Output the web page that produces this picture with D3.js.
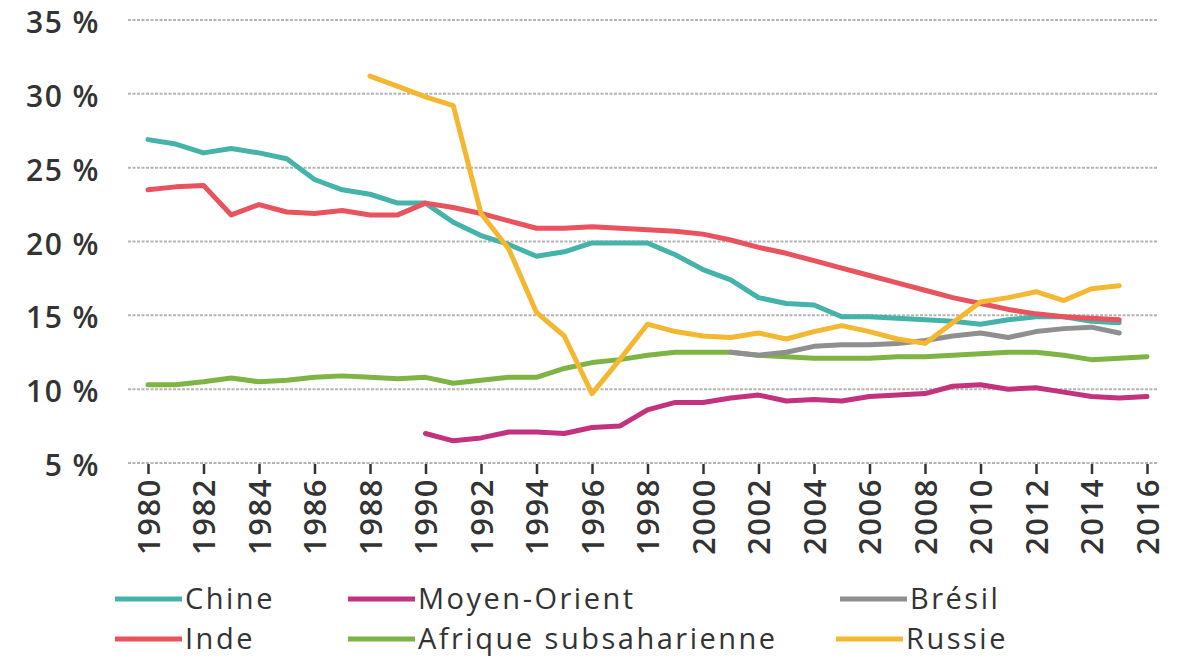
<!DOCTYPE html>
<html>
<head>
<meta charset="utf-8">
<script src="https://cdn.jsdelivr.net/npm/d3@7"></script>
<style>
  html, body { margin: 0; padding: 0; background: #fff; }
  svg { display: block; }
  text { font-family: "Open Sans", "Noto Sans", sans-serif; fill: #333; }
</style>
</head>
<body>
<svg id="chart" width="1191" height="660"></svg>
<script>
const years = d3.range(1980, 2017);
const yTicks = [5, 10, 15, 20, 25, 30, 35];
const xTicks = d3.range(1980, 2017, 2);

const chineYears = d3.range(1980, 2016);
const chine = [26.9, 26.6, 26.0, 26.3, 26.0, 25.6, 24.2, 23.5, 23.2, 22.6, 22.6, 21.3, 20.4, 19.8, 19.0, 19.3, 19.9, 19.9, 19.9, 19.1, 18.1, 17.4, 16.2, 15.8, 15.7, 14.9, 14.9, 14.8, 14.7, 14.6, 14.4, 14.7, 14.9, 14.9, 14.6, 14.5];

const indeYears = d3.range(1980, 2016);
const inde = [23.5, 23.7, 23.8, 21.8, 22.5, 22.0, 21.9, 22.1, 21.8, 21.8, 22.6, 22.3, 21.9, 21.4, 20.9, 20.9, 21.0, 20.9, 20.8, 20.7, 20.5, 20.1, 19.6, 19.2, 18.7, 18.2, 17.7, 17.2, 16.7, 16.2, 15.8, 15.4, 15.1, 14.9, 14.8, 14.7];

const russieYears = d3.range(1988, 2016);
const russie = [31.2, 30.5, 29.8, 29.2, 21.9, 19.5, 15.2, 13.6, 9.7, 12.0, 14.4, 13.9, 13.6, 13.5, 13.8, 13.4, 13.9, 14.3, 13.9, 13.4, 13.1, 14.5, 15.9, 16.2, 16.6, 16.0, 16.8, 17.0];

const moyenOrientYears = d3.range(1990, 2017);
const moyenOrient = [7.0, 6.5, 6.7, 7.1, 7.1, 7.0, 7.4, 7.5, 8.6, 9.1, 9.1, 9.4, 9.6, 9.2, 9.3, 9.2, 9.5, 9.6, 9.7, 10.2, 10.3, 10.0, 10.1, 9.8, 9.5, 9.4, 9.5];

const afriqueYears = d3.range(1980, 2017);
const afrique = [10.3, 10.3, 10.5, 10.75, 10.5, 10.6, 10.8, 10.9, 10.8, 10.7, 10.8, 10.4, 10.6, 10.8, 10.8, 11.4, 11.8, 12.0, 12.3, 12.5, 12.5, 12.5, 12.3, 12.2, 12.1, 12.1, 12.1, 12.2, 12.2, 12.3, 12.4, 12.5, 12.5, 12.3, 12.0, 12.1, 12.2];

const bresilYears = d3.range(2001, 2016);
const bresil = [12.5, 12.3, 12.5, 12.9, 13.0, 13.0, 13.1, 13.3, 13.6, 13.8, 13.5, 13.9, 14.1, 14.2, 13.8];

const seriesNames = ["Chine", "Inde", "Moyen-Orient", "Afrique subsaharienne", "Brésil", "Russie"];
const seriesColors = ["#45b3aa", "#e8535e", "#c2327f", "#7db443", "#8f8f8f", "#f4b731"];

const series = [
  { name: "Chine", years: chineYears, values: chine, color: seriesColors[0] },
  { name: "Inde", years: indeYears, values: inde, color: seriesColors[1] },
  { name: "Moyen-Orient", years: moyenOrientYears, values: moyenOrient, color: seriesColors[2] },
  { name: "Afrique subsaharienne", years: afriqueYears, values: afrique, color: seriesColors[3] },
  { name: "Brésil", years: bresilYears, values: bresil, color: seriesColors[4] },
  { name: "Russie", years: russieYears, values: russie, color: seriesColors[5] }
];

const svg = d3.select("#chart");
const x = d3.scaleLinear().domain([1980, 2016]).range([148, 1147]);
const y = d3.scaleLinear().domain([5, 35]).range([463, 20]);

// Gridlines (dotted)
svg.append("g").selectAll("line").data(yTicks).join("line")
  .attr("x1", 128).attr("x2", 1158)
  .attr("y1", d => y(d)).attr("y2", d => y(d))
  .attr("stroke", "#b4b4b4").attr("stroke-width", 2)
  .attr("stroke-dasharray", "3,1.5");

// Y axis labels
const yAxis = d3.axisLeft(y).tickValues(yTicks).tickSize(0).tickPadding(0)
  .tickFormat(d => d + " %");
const gy = svg.append("g").attr("transform", "translate(100,0)").call(yAxis);
gy.select(".domain").remove();
gy.selectAll("text").attr("font-size", 30).attr("font-weight", 600)
  .attr("fill", "#333").attr("font-family", "'Open Sans', sans-serif")
  .attr("letter-spacing", 1.5)
  .attr("dy", "0.42em");

// X axis
const xAxis = d3.axisBottom(x).tickValues(xTicks).tickSize(10).tickFormat(d3.format("d"));
const gx = svg.append("g").attr("transform", `translate(0,${y(5) + 1})`).call(xAxis);
gx.select(".domain").remove();
gx.selectAll(".tick line").attr("stroke", "#333").attr("stroke-width", 2.5);
gx.selectAll("text")
  .attr("font-size", 31).attr("font-weight", 600).attr("fill", "#333")
  .attr("font-family", "'Open Sans', sans-serif")
  .attr("letter-spacing", 1.5)
  .attr("transform", "rotate(-90)")
  .attr("text-anchor", "end")
  .attr("x", -14).attr("y", 0).attr("dy", "0.36em");

// Lines
const line = d3.line().x(d => x(d[0])).y(d => y(d[1]));
const drawOrder = ["Chine", "Moyen-Orient", "Afrique subsaharienne", "Brésil", "Inde", "Russie"];
drawOrder.forEach(name => {
  const s = series.find(t => t.name === name);
  svg.append("path")
    .datum(s.years.map((yr, i) => [yr, s.values[i]]))
    .attr("fill", "none")
    .attr("stroke", s.color)
    .attr("stroke-width", 5)
    .attr("stroke-linejoin", "round")
    .attr("stroke-linecap", "round")
    .attr("d", line);
});

// Legend
const legendPos = [
  { name: "Chine", lx: 115, row: 0 },
  { name: "Inde", lx: 115, row: 1 },
  { name: "Moyen-Orient", lx: 348, row: 0 },
  { name: "Afrique subsaharienne", lx: 348, row: 1 },
  { name: "Brésil", lx: 840, row: 0 },
  { name: "Russie", lx: 836, row: 1 }
];
const lg = svg.append("g");
legendPos.forEach(p => {
  const s = series.find(t => t.name === p.name);
  const cy = 599 + p.row * 40;
  lg.append("line").attr("x1", p.lx).attr("x2", p.lx + 67)
    .attr("y1", cy).attr("y2", cy)
    .attr("stroke", s.color).attr("stroke-width", 5);
  lg.append("text").attr("x", p.lx + 70).attr("y", cy).attr("dy", "0.36em")
    .attr("font-size", 29).attr("font-weight", 500)
    .attr("letter-spacing", 2.5)
    .text(s.name);
});
</script>
</body>
</html>
